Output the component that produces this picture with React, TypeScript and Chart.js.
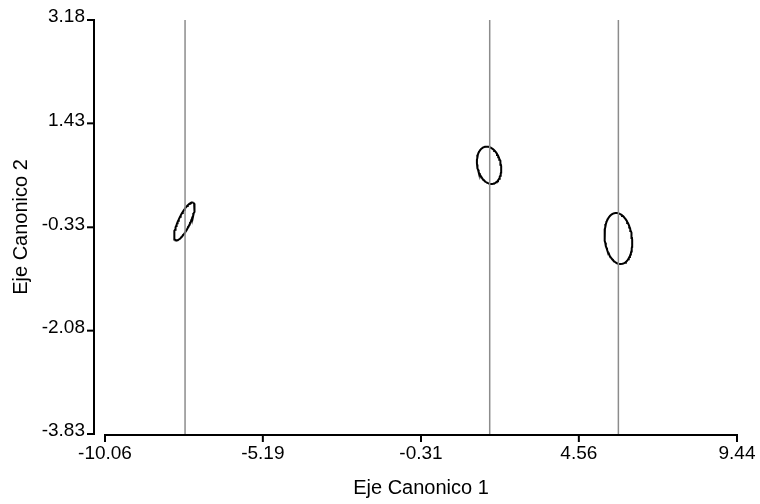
import React, { useEffect, useRef } from "react";
import { Chart, registerables } from "chart.js";

Chart.register(...registerables);

const xTicks = [-10.06, -5.19, -0.31, 4.56, 9.44];
const yTicks = [-3.83, -2.08, -0.33, 1.43, 3.18];
const xTitle = "Eje Canonico 1";
const yTitle = "Eje Canonico 2";

// vertical reference lines (x position of each group)
const groupLineX = [-7.59, 1.81, 5.78];

// confidence ellipses: centre and two conjugate half-axis vectors (data units)
const ellipseCenterX = [-7.61, 1.79, 5.78];
const ellipseCenterY = [-0.23, 0.72, -0.52];
const ellipseAxis1X = [0.272, 0.123, 0.093];
const ellipseAxis1Y = [0.318, -0.313, -0.432];
const ellipseAxis2X = [0.165, 0.355, 0.417];
const ellipseAxis2Y = [-0.045, 0.042, 0.025];

const FONT = "'Liberation Sans', Arial, sans-serif";

function ellipsePoints(i: number) {
  const pts: { x: number; y: number }[] = [];
  const n = 90;
  for (let k = 0; k <= n; k++) {
    const t = (k / n) * Math.PI * 2;
    pts.push({
      x: ellipseCenterX[i] + ellipseAxis1X[i] * Math.cos(t) + ellipseAxis2X[i] * Math.sin(t),
      y: ellipseCenterY[i] + ellipseAxis1Y[i] * Math.cos(t) + ellipseAxis2Y[i] * Math.sin(t),
    });
  }
  return pts;
}

const axesPlugin = {
  id: "detachedAxes",
  afterDraw(chart: any) {
    const ctx = chart.ctx;
    const xs = chart.scales.x;
    const ys = chart.scales.y;
    const yAxisX = 94;
    const xAxisY = 435;
    ctx.save();
    ctx.strokeStyle = "#000";
    ctx.lineWidth = 2;
    ctx.lineCap = "butt";
    // y axis
    const yTop = ys.getPixelForValue(yTicks[yTicks.length - 1]);
    const yBot = ys.getPixelForValue(yTicks[0]);
    ctx.beginPath();
    ctx.moveTo(yAxisX, yTop - 1);
    ctx.lineTo(yAxisX, yBot + 1);
    ctx.stroke();
    yTicks.forEach((v) => {
      const py = ys.getPixelForValue(v);
      ctx.beginPath();
      ctx.moveTo(yAxisX - 7, py);
      ctx.lineTo(yAxisX, py);
      ctx.stroke();
    });
    // x axis
    const xL = xs.getPixelForValue(xTicks[0]);
    const xR = xs.getPixelForValue(xTicks[xTicks.length - 1]);
    ctx.beginPath();
    ctx.moveTo(xL - 1, xAxisY);
    ctx.lineTo(xR + 1, xAxisY);
    ctx.stroke();
    xTicks.forEach((v) => {
      const px = xs.getPixelForValue(v);
      ctx.beginPath();
      ctx.moveTo(px, xAxisY);
      ctx.lineTo(px, xAxisY + 7);
      ctx.stroke();
    });
    ctx.restore();
  },
};

export default function App() {
  const ref = useRef<HTMLCanvasElement | null>(null);

  useEffect(() => {
    if (!ref.current) return;
    const datasets: any[] = [];
    groupLineX.forEach((gx) => {
      datasets.push({
        data: [
          { x: gx, y: yTicks[0] },
          { x: gx, y: yTicks[yTicks.length - 1] },
        ],
        showLine: true,
        borderColor: "#8c8c8c",
        borderWidth: 1.5,
        pointRadius: 0,
        clip: false,
      });
    });
    ellipseCenterX.forEach((_, i) => {
      datasets.push({
        data: ellipsePoints(i),
        showLine: true,
        borderColor: "#000",
        borderWidth: 2,
        pointRadius: 0,
        tension: 0,
      });
    });

    const chart = new Chart(ref.current, {
      type: "scatter",
      data: { datasets },
      options: {
        animation: false,
        responsive: false,
        layout: { padding: { top: 20, right: 23, left: 0, bottom: 0 } },
        plugins: { legend: { display: false }, tooltip: { enabled: false } },
        scales: {
          x: {
            type: "linear",
            min: xTicks[0],
            max: xTicks[xTicks.length - 1],
            grid: { display: false, drawTicks: false },
            border: { display: false },
            afterBuildTicks: (s: any) => {
              s.ticks = xTicks.map((v) => ({ value: v }));
            },
            afterFit: (s: any) => {
              s.height = 70;
              s.paddingLeft = 0;
              s.paddingRight = 0;
            },
            ticks: {
              padding: 8,
              color: "#000",
              font: { family: FONT, size: 19 },
              maxRotation: 0,
              autoSkip: false,
              callback: (v: any) => Number(v).toFixed(2),
            },
            title: {
              display: true,
              text: xTitle,
              color: "#000",
              font: { family: FONT, size: 20 },
              padding: { top: 0, bottom: 4 },
            },
          },
          y: {
            type: "linear",
            min: yTicks[0],
            max: yTicks[yTicks.length - 1],
            grid: { display: false, drawTicks: false },
            border: { display: false },
            afterBuildTicks: (s: any) => {
              s.ticks = yTicks.map((v) => ({ value: v }));
            },
            afterFit: (s: any) => {
              s.width = 105;
              s.paddingTop = 0;
              s.paddingBottom = 0;
            },
            ticks: {
              padding: 20,
              labelOffset: -3,
              color: "#000",
              autoSkip: false,
              font: { family: FONT, size: 19 },
              callback: (v: any) => Number(v).toFixed(2),
            },
            title: {
              display: true,
              text: yTitle,
              color: "#000",
              font: { family: FONT, size: 20 },
              padding: { top: 9, bottom: 0 },
            },
          },
        },
      },
      plugins: [axesPlugin],
    });
    return () => chart.destroy();
  }, []);

  return (
    <div style={{ position: "fixed", left: 0, top: 0, width: 760, height: 504, background: "#fff" }}>
      <canvas ref={ref} width={760} height={504} style={{ display: "block" }} />
    </div>
  );
}
